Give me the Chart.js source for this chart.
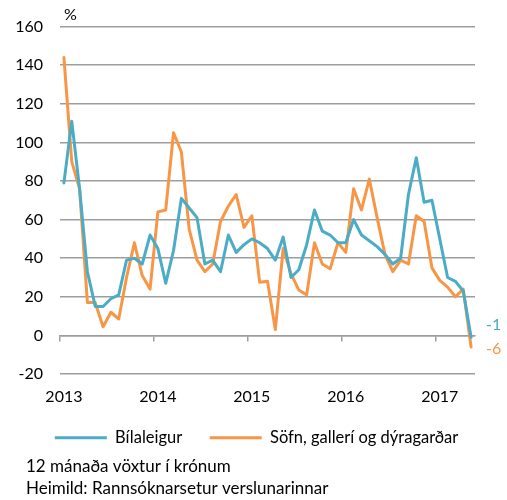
<!DOCTYPE html>
<html><head><meta charset="utf-8">
<script src="https://cdn.jsdelivr.net/npm/chart.js@4"></script>
<style>html,body{margin:0;padding:0;background:#fff}</style>
</head><body>
<canvas id="c" width="507" height="500"></canvas>
<script>
const months = [
 '2013-01','2013-02','2013-03','2013-04','2013-05','2013-06','2013-07','2013-08','2013-09','2013-10','2013-11','2013-12',
 '2014-01','2014-02','2014-03','2014-04','2014-05','2014-06','2014-07','2014-08','2014-09','2014-10','2014-11','2014-12',
 '2015-01','2015-02','2015-03','2015-04','2015-05','2015-06','2015-07','2015-08','2015-09','2015-10','2015-11','2015-12',
 '2016-01','2016-02','2016-03','2016-04','2016-05','2016-06','2016-07','2016-08','2016-09','2016-10','2016-11','2016-12',
 '2017-01','2017-02','2017-03','2017-04','2017-05'];
const yearTicks = ['2013','2014','2015','2016','2017'];
const bilaleigur = [
 79,111,76,33,15,15,19,21,39,40,37,52,
 45,27,44,71,66,61,37,39,33,52,43,47,
 50,48,45,39,51,30,34,47,65,54,52,48,
 48,60,52,49,46,42,37,40,73,92,69,70,
 50,30,28,23,-1];
const sofn = [
 144,90,76,17,17,4.5,12,8.5,30,48,31,24,
 64,65,105,95,55,39,33,37,59,67,73,56,
 62,27.5,28,3,45,32,23.5,21,48,37,34.5,48,
 43,76,65,81,61,42,33,39,37,62,59,35,
 28.5,25,20,24,-6];
const seriesNames = ['Bílaleigur','Söfn, gallerí og dýragarðar'];
const notes = ['12 mánaða vöxtur í krónum','Heimild: Rannsóknarsetur verslunarinnar'];

const BLUE = '#4BACC6', ORANGE = '#F79646', GRID = '#9d9d9d', TXT = '#000000';
const FAM = 'Lato, "Open Sans", sans-serif';
const font = {family: FAM, size: 16};
const legendFont = {family: FAM, size: 16.5};

const extras = {
  id: 'extras',
  afterLayout(chart) {
    chart.titleBlock.left += 16; chart.titleBlock.right += 16;
    chart.legend.left -= 2; chart.legend.right -= 2;
  },
  afterDraw(chart) {
    const ctx = chart.ctx, ca = chart.chartArea;
    ctx.save();
    ctx.font = '16px ' + FAM;
    ctx.fillStyle = TXT;
    ctx.textAlign = 'left';
    ctx.textBaseline = 'middle';
    ctx.fillText('%', ca.left + 4, ca.top - 12);
    const offs = [-12, 2];
    chart.data.datasets.forEach((ds, i) => {
      const meta = chart.getDatasetMeta(i);
      const p = meta.data[meta.data.length - 1];
      const v = ds.data[ds.data.length - 1];
      ctx.fillStyle = ds.borderColor;
      ctx.fillText(String(v), p.x + 15, p.y + offs[i]);
    });
    ctx.restore();
  }
};

new Chart(document.getElementById('c'), {
  type: 'line',
  data: {
    labels: months,
    datasets: [
      {label: seriesNames[0], data: bilaleigur, borderColor: BLUE, backgroundColor: BLUE, borderWidth: 3, pointRadius: 0, tension: 0, borderJoinStyle: 'round', borderCapStyle: 'round'},
      {label: seriesNames[1], data: sofn, borderColor: ORANGE, backgroundColor: ORANGE, borderWidth: 3, pointRadius: 0, tension: 0, borderJoinStyle: 'round', borderCapStyle: 'round'}
    ]
  },
  options: {
    responsive: false,
    animation: false,
    layout: {padding: {left: 10, right: 0, top: 26, bottom: 0}},
    scales: {
      x: {
        type: 'category', position: 'bottom', offset: true,
        grid: {display: false, drawTicks: false}, border: {display: false},
        ticks: {autoSkip: false, maxRotation: 0, padding: 13, font, color: TXT,
          callback: (v, i) => (i % 12 === 0 ? yearTicks[i / 12] : '')},
        afterFit: s => { s.height = 28; }
      },
      x2: {
        type: 'category', position: {y: 0}, offset: true,
        grid: {offset: true, drawOnChartArea: false, drawTicks: true, tickLength: 5, lineWidth: 1.5,
          color: c => (c.index % 12 === 0 ? GRID : 'rgba(0,0,0,0)')},
        border: {display: true, color: GRID, width: 1.5},
        ticks: {display: false}
      },
      y: {
        min: -20, max: 160,
        ticks: {stepSize: 20, padding: 17, font, color: TXT},
        grid: {color: GRID, lineWidth: 1.5, drawTicks: false},
        border: {display: false},
        afterFit: s => { s.width = 50; }
      },
      y2: {
        type: 'linear', position: 'right',
        grid: {display: false, drawTicks: false}, border: {display: false},
        ticks: {display: false},
        afterFit: s => { s.width = 32; }
      }
    },
    plugins: {
      legend: {
        position: 'bottom', align: 'center',
        labels: {
          boxWidth: 52, boxHeight: 3, padding: 27.5, font: legendFont, color: TXT,
          generateLabels(chart) {
            const items = Chart.defaults.plugins.legend.labels.generateLabels(chart);
            items.forEach(it => { it.fillStyle = it.strokeStyle; it.lineWidth = 0; });
            return items;
          }
        }
      },
      title: {
        display: true, position: 'bottom', align: 'start', text: notes,
        font: {family: FAM, size: 17, weight: 'normal', lineHeight: 22 / 17},
        color: TXT, padding: 0
      },
      tooltip: {enabled: false}
    }
  },
  plugins: [extras]
});
</script>
</body></html>
